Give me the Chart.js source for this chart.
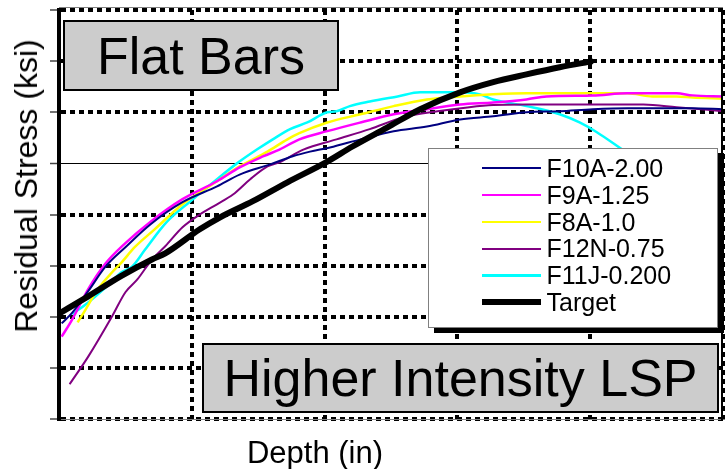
<!DOCTYPE html>
<html>
<head>
<meta charset="utf-8">
<script src="https://cdn.jsdelivr.net/npm/chart.js@4.4.1/dist/chart.umd.min.js"></script>
<style>
html,body{margin:0;padding:0;background:#fff;}
#wrap{position:relative;width:725px;height:469px;overflow:hidden;font-family:"Liberation Sans",Arial,sans-serif;color:#000;}
#chart{position:absolute;left:0;top:0;}
.note{position:absolute;background:#cccccc;border:2px solid #000;box-sizing:border-box;display:flex;align-items:center;justify-content:center;font-size:52px;line-height:52px;white-space:nowrap;}
.ytitle{position:absolute;left:26px;top:186px;transform:translate(-50%,-50%) rotate(-90deg);font-size:32px;line-height:32px;white-space:nowrap;}
.xtitle{position:absolute;left:315px;top:437px;transform:translateX(-50%);font-size:31px;line-height:31px;white-space:nowrap;}
#legend{position:absolute;left:428px;top:148px;width:290px;height:180px;box-sizing:border-box;border:1.5px solid #808080;background:#fff;box-shadow:6px 5px 0 #000;padding-top:6px;}
.lrow{display:flex;align-items:center;height:26.8px;font-size:25px;line-height:26.8px;white-space:nowrap;}
.lsample{margin-left:52.5px;width:59px;}
.ltext{margin-left:6px;}
</style>
</head>
<body>
<div id="wrap">
  <canvas id="chart" width="725" height="469"></canvas>
  <div class="ytitle">Residual Stress (ksi)</div>
  <div class="xtitle">Depth (in)</div>
  <div class="note" style="left:63px;top:20px;width:276px;height:71px;">Flat Bars</div>
  <div class="note" style="left:202px;top:343px;width:517px;height:70px;">Higher Intensity LSP</div>
  <div id="legend"></div>
</div>
<script>
// ---- Data ----
const seriesNames = ['F10A-2.00', 'F9A-1.25', 'F8A-1.0', 'F12N-0.75', 'F11J-0.200', 'Target'];

const depthF10A  = [0.0002,0.0010,0.0022,0.0035,0.0050,0.0069,0.0093,0.0119,0.0136,0.0159,0.0176,0.0189,0.0204,0.0227,0.0252,0.0277,0.0302,0.0327,0.0352,0.0377,0.0402,0.0428,0.0477,0.0500];
const stressF10A = [-31.3,-29.2,-25.0,-20.2,-16.4,-11.9,-7.6,-4.5,-2.2,-0.2,1.4,2.3,3.1,4.7,6.3,7.2,8.6,9.2,10.0,10.2,10.6,10.8,10.8,10.6];

const depthF9A  = [0.0002,0.0010,0.0022,0.0035,0.0050,0.0069,0.0093,0.0119,0.0136,0.0154,0.0166,0.0181,0.0202,0.0227,0.0252,0.0277,0.0302,0.0327,0.0352,0.0367,0.0402,0.0428,0.0465,0.0477,0.0500];
const stressF9A = [-33.9,-30.5,-24.6,-19.6,-15.6,-11.4,-7.0,-3.5,-0.8,1.4,2.7,4.7,6.3,8.0,9.6,10.6,11.5,11.9,12.5,13.1,13.3,13.7,13.7,13.3,13.1];

const depthF8A  = [0.0014,0.0020,0.0029,0.0040,0.0047,0.0057,0.0072,0.0093,0.0119,0.0136,0.0157,0.0172,0.0181,0.0202,0.0227,0.0252,0.0277,0.0302,0.0327,0.0352,0.0377,0.0402,0.0428,0.0447,0.0465,0.0477,0.0500];
const stressF8A = [-31.1,-28.6,-24.7,-21.3,-19.4,-16.4,-12.9,-8.0,-3.5,-0.6,2.3,4.7,5.9,8.0,9.6,11.2,12.5,13.1,13.5,13.7,13.7,13.7,13.7,13.1,13.1,12.9,12.7];

const depthF12N  = [0.0008,0.0022,0.0040,0.0050,0.0059,0.0070,0.0080,0.0093,0.0106,0.0119,0.0131,0.0144,0.0157,0.0166,0.0184,0.0209,0.0234,0.0259,0.0285,0.0309,0.0327,0.0352,0.0402,0.0440,0.0465,0.0500];
const stressF12N = [-43.2,-37.8,-29.9,-25.2,-22.7,-18.8,-16.2,-12.5,-10.0,-8.0,-6.1,-3.1,-0.6,0.2,2.7,4.7,6.7,9.0,10.2,11.0,11.4,11.5,11.5,11.5,11.0,10.2];

const depthF11J  = [0.0010,0.0022,0.0035,0.0047,0.0055,0.0065,0.0081,0.0099,0.0119,0.0134,0.0149,0.0161,0.0174,0.0187,0.0202,0.0209,0.0219,0.0234,0.0255,0.0272,0.0302,0.0317,0.0327,0.0352,0.0377,0.0392,0.0405,0.0422,0.0437];
const stressF11J = [-29.5,-27.2,-24.3,-21.3,-20.2,-16.8,-11.5,-7.4,-3.1,0.0,2.7,4.7,6.7,8.0,10.0,10.2,11.2,12.1,13.1,13.9,13.9,13.5,12.5,11.2,9.6,8.0,6.1,3.1,0.4];

const depthTarget  = [0,0.0022,0.0047,0.0070,0.0080,0.0106,0.0121,0.0146,0.0172,0.0201,0.0221,0.0247,0.0272,0.0302,0.0327,0.0352,0.0377,0.0402];
const stressTarget = [-29.4,-26.0,-22.0,-18.8,-17.6,-12.9,-10.6,-7.4,-3.7,0.2,3.3,7.0,10.6,13.9,15.9,17.4,18.8,20.0];

// axis ranges (tick labels are not shown in the reference)
const depthMin = 0, depthMax = 0.05, depthStep = 0.01;
const stressMin = -50, stressMax = 30, stressStep = 10;

// ---- Styles ----
const seriesColors = ['#000080', '#ff00ff', '#ffff00', '#800080', '#00ffff', '#000000'];
const seriesWidths = [2, 2.5, 2.5, 2, 2.5, 6];
const depths = [depthF10A, depthF9A, depthF8A, depthF12N, depthF11J, depthTarget];
const stresses = [stressF10A, stressF9A, stressF8A, stressF12N, stressF11J, stressTarget];

const datasets = seriesNames.map((name, k) => ({
  label: name,
  data: depths[k].map((x, i) => ({x: x, y: stresses[k][i]})),
  borderColor: seriesColors[k],
  backgroundColor: seriesColors[k],
  borderWidth: seriesWidths[k],
  pointRadius: 0,
  fill: false,
  cubicInterpolationMode: 'monotone',
  order: name === 'Target' ? -1 : k
}));

const framePlugin = {
  id: 'frame',
  afterDraw(chart) {
    const {ctx, chartArea: a} = chart;
    ctx.save();
    ctx.strokeStyle = '#000';
    ctx.lineWidth = 2;
    ctx.beginPath();
    ctx.moveTo(a.right - 1, a.top - 3);
    ctx.lineTo(a.right - 1, a.bottom + 2);
    ctx.stroke();
    ctx.strokeStyle = '#808080';
    ctx.lineWidth = 1;
    ctx.beginPath();
    ctx.moveTo(a.left, a.top - 2.5);
    ctx.lineTo(a.right, a.top - 2.5);
    ctx.stroke();
    ctx.restore();
  }
};

const chart = new Chart(document.getElementById('chart'), {
  type: 'line',
  data: { datasets: datasets },
  options: {
    responsive: false,
    animation: false,
    events: [],
    layout: { padding: { top: 10, right: 2, left: 0, bottom: 0 } },
    plugins: { legend: { display: false }, tooltip: { enabled: false } },
    scales: {
      x: {
        type: 'linear',
        min: depthMin, max: depthMax,
        ticks: { display: false, stepSize: depthStep },
        grid: { color: '#000', lineWidth: 4, drawTicks: false },
        border: { display: true, color: '#808080', width: 1, dash: [5, 4] },
        afterFit(scale) { scale.height = 50; }
      },
      y: {
        type: 'linear',
        min: stressMin, max: stressMax,
        ticks: { display: false, stepSize: stressStep },
        grid: {
          color: '#000',
          lineWidth: (c) => (c.tick && c.tick.value === 0) ? 1 : 4,
          drawTicks: true,
          tickLength: 9,
          tickColor: '#444',
          tickWidth: 1.5,
          tickBorderDash: []
        },
        border: {
          display: true, color: '#000', width: 4,
          dash: (c) => (c.tick && c.tick.value === 0) ? [] : [5, 4]
        },
        afterFit(scale) { scale.width = 59; }
      }
    }
  },
  plugins: [framePlugin]
});

// ---- HTML legend built from the chart's datasets ----
const legendEl = document.getElementById('legend');
chart.data.datasets.forEach((ds) => {
  const row = document.createElement('div');
  row.className = 'lrow';
  const s = document.createElement('span');
  s.className = 'lsample';
  s.style.height = ds.borderWidth + 'px';
  s.style.background = ds.borderColor;
  const t = document.createElement('span');
  t.className = 'ltext';
  t.textContent = ds.label;
  row.appendChild(s);
  row.appendChild(t);
  legendEl.appendChild(row);
});
</script>
</body>
</html>
